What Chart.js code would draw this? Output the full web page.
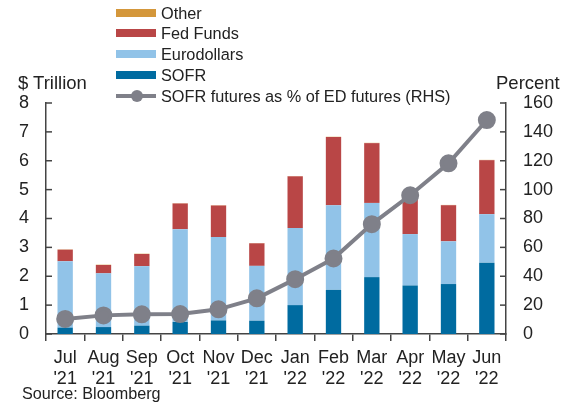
<!DOCTYPE html>
<html>
<head>
<meta charset="utf-8">
<script src="https://cdn.jsdelivr.net/npm/chart.js@4.4.0/dist/chart.umd.min.js"></script>
<style>
  body { margin: 0; background: #fff; font-family: "Liberation Sans", Arial, sans-serif; color: #222; }
  #wrap { position: relative; width: 561px; height: 404px; }
  canvas { position: absolute; left: 0; top: 0; }
  .lbl { position: absolute; font-size: 18.5px; line-height: 20px; white-space: nowrap; }
  .leg { position: absolute; left: 116px; font-size: 16.3px; line-height: 18px; white-space: nowrap; }
  .leg span.sw { position: absolute; left: 0; top: -4px; width: 40px; height: 8px; }
  .leg span.tx { position: absolute; left: 45px; top: -9px; }
</style>
</head>
<body>
<div id="wrap">
  <canvas id="c" width="561" height="404"></canvas>
  <div class="lbl" style="left:18px; top:73px;">$ Trillion</div>
  <div class="lbl" style="left:496px; top:73px;">Percent</div>
  <div class="lbl" style="left:22px; top:384px; font-size:16.2px; line-height:18px;">Source: Bloomberg</div>
  <div id="legend"></div>
</div>
<script>
// Monthly futures open interest by contract type, $ trillion
const months = [["Jul", "'21"], ["Aug", "'21"], ["Sep", "'21"], ["Oct", "'21"], ["Nov", "'21"], ["Dec", "'21"],
                ["Jan", "'22"], ["Feb", "'22"], ["Mar", "'22"], ["Apr", "'22"], ["May", "'22"], ["Jun", "'22"]];
const sofr        = [0.22, 0.24, 0.29, 0.42, 0.47, 0.46, 1.00, 1.53, 1.97, 1.68, 1.73, 2.47];
const eurodollars = [2.30, 1.86, 2.06, 3.21, 2.89, 1.90, 2.67, 2.93, 2.57, 1.78, 1.48, 1.68];
const fedFunds    = [0.40, 0.29, 0.42, 0.89, 1.09, 0.78, 1.79, 2.36, 2.07, 1.29, 1.25, 1.87];
const other       = [0.01, 0.01, 0.01, 0.01, 0.01, 0.01, 0.01, 0.01, 0.01, 0.01, 0.01, 0.01];
// SOFR futures as % of ED futures (RHS)
const sofrPctEd   = [10.4, 12.9, 13.6, 13.8, 17.1, 24.7, 38.0, 52.3, 76.1, 96.1, 118.2, 148.2];

const leftTicks = [0, 1, 2, 3, 4, 5, 6, 7, 8];
const rightTicks = [0, 20, 40, 60, 80, 100, 120, 140, 160];

const colors = { other: '#d4973b', fed: '#b94646', euro: '#91c3e8', sofr: '#006ba0', line: '#7f8089' };
const axisColor = '#444';
const font = { family: '"Liberation Sans", Arial, sans-serif', size: 18 };

// HTML legend, stacked vertically above the plot
const legendItems = [
    { label: 'Other', color: colors.other, y: 13 },
    { label: 'Fed Funds', color: colors.fed, y: 33 },
    { label: 'Eurodollars', color: colors.euro, y: 54 },
    { label: 'SOFR', color: colors.sofr, y: 75 },
];
const legendEl = document.getElementById('legend');
legendItems.forEach(it => {
    legendEl.insertAdjacentHTML('beforeend',
        `<div class="leg" style="top:${it.y}px"><span class="sw" style="background:${it.color}"></span><span class="tx">${it.label}</span></div>`);
});
legendEl.insertAdjacentHTML('beforeend',
    `<div class="leg" style="top:96px"><span class="sw" style="top:-2px;height:4px;background:${colors.line}"></span>` +
    `<span style="position:absolute;left:15px;top:-6px;width:12px;height:12px;border-radius:50%;background:${colors.line}"></span>` +
    `<span class="tx">SOFR futures as % of ED futures (RHS)</span></div>`);

// inward tick marks on both y axes
const yTickMarks = {
    id: 'yTickMarks',
    afterDraw(chart) {
        const ctx = chart.ctx;
        const { left, right } = chart.chartArea;
        ctx.save();
        ctx.strokeStyle = axisColor;
        ctx.lineWidth = 1.5;
        leftTicks.forEach(v => {
            const y = chart.scales.y.getPixelForValue(v);
            ctx.beginPath(); ctx.moveTo(left, y); ctx.lineTo(left + 6, y); ctx.stroke();
        });
        rightTicks.forEach(v => {
            const y = chart.scales.y2.getPixelForValue(v);
            ctx.beginPath(); ctx.moveTo(right, y); ctx.lineTo(right - 6, y); ctx.stroke();
        });
        ctx.restore();
    }
};

const barDefaults = { stack: 's', yAxisID: 'y', barPercentage: 0.4, categoryPercentage: 1.0, order: 2 };

new Chart(document.getElementById('c'), {
    type: 'bar',
    data: {
        labels: months,
        datasets: [
            { ...barDefaults, label: 'SOFR', data: sofr, backgroundColor: colors.sofr },
            { ...barDefaults, label: 'Eurodollars', data: eurodollars, backgroundColor: colors.euro },
            { ...barDefaults, label: 'Fed Funds', data: fedFunds, backgroundColor: colors.fed },
            { ...barDefaults, label: 'Other', data: other, backgroundColor: colors.other },
            {
                type: 'line', label: 'SOFR futures as % of ED futures (RHS)', data: sofrPctEd, yAxisID: 'y2',
                borderColor: colors.line, backgroundColor: colors.line, borderWidth: 4,
                pointRadius: 7, pointHoverRadius: 7, tension: 0, order: 1
            }
        ]
    },
    options: {
        responsive: false, animation: false,
        layout: { padding: { top: 103, left: 0, right: 0, bottom: 0 } },
        plugins: { legend: { display: false }, tooltip: { enabled: false } },
        scales: {
            x: {
                stacked: true,
                grid: { display: true, drawOnChartArea: false, tickLength: 7, color: axisColor, lineWidth: 1.5 },
                border: { color: axisColor, width: 1.5 },
                ticks: { color: '#222', font, padding: 6, maxRotation: 0, autoSkip: false },
                afterFit(s) { s.height = 70; }
            },
            y: {
                stacked: true, position: 'left', min: 0, max: 8,
                grid: { display: false, drawTicks: false },
                border: { color: axisColor, width: 1.5 },
                ticks: { stepSize: 1, color: '#222', font, padding: 17 },
                afterFit(s) { s.width = 46; }
            },
            y2: {
                position: 'right', min: 0, max: 160,
                grid: { display: false, drawTicks: false },
                border: { color: axisColor, width: 1.5 },
                ticks: { stepSize: 20, color: '#222', font, padding: 17 },
                afterFit(s) { s.width = 55; }
            }
        }
    },
    plugins: [yTickMarks]
});
</script>
</body>
</html>
